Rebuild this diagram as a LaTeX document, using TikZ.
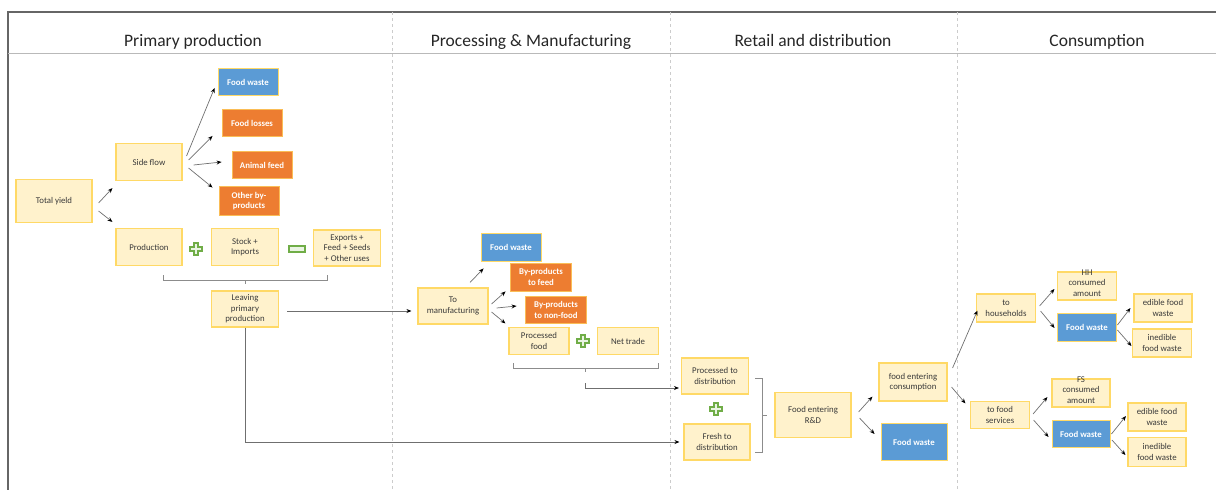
\documentclass[tikz,border=0pt]{standalone}
\usepackage{fontspec}
\setmainfont{Carlito}
\usetikzlibrary{arrows.meta,calc}
\definecolor{boxfill}{HTML}{FFF2CC}
\definecolor{boxline}{HTML}{FFD966}
\definecolor{bluefill}{HTML}{5B9BD5}
\definecolor{orangefill}{HTML}{ED7D31}
\definecolor{txt}{HTML}{3A3A3A}
\definecolor{conn}{HTML}{6F6F6F}
\definecolor{grn}{HTML}{70AD47}
\definecolor{grnfill}{HTML}{EAF4E3}
\newcommand{\boxfont}{\fontsize{8.8}{10.5}\selectfont}
\newcommand{\headfont}{\fontsize{17.5}{20}\selectfont}
\newcommand{\ovf}[1]{\smash{\begin{tabular}{@{}c@{}}#1\end{tabular}}}
\tikzset{
  lbox/.style={draw=boxline, line width=1.1pt, fill=boxfill, text=txt, font=\boxfont, align=center, inner sep=1pt},
  bbox/.style={draw=boxline, line width=0.9pt, fill=bluefill, text=white, font=\boxfont\bfseries, align=center, inner sep=1pt},
  obox/.style={draw=boxline!70!orangefill, line width=0.9pt, fill=orangefill, text=white, font=\boxfont\bfseries, align=center, inner sep=1pt},
  arr/.style={draw=conn, line width=0.7pt, -{Stealth[length=5pt,width=4pt,black]}},
  brk/.style={draw=gray!90, line width=0.9pt},
  sz/.style 2 args={minimum width=#1pt, minimum height=#2pt},
  head/.style={font=\headfont, text=black!85, anchor=base},
  greenplus/.pic={\draw[grn, fill=grnfill, line width=1.1pt] (-2,-6)--(2,-6)--(2,-2)--(6,-2)--(6,2)--(2,2)--(2,6)--(-2,6)--(-2,2)--(-6,2)--(-6,-2)--(-2,-2)--cycle;},
  greenminus/.pic={\draw[grn, fill=grnfill, line width=1.1pt] (-8,-3) rectangle (8,3);}
}
\begin{document}
\begin{tikzpicture}[x=1pt,y=-1pt]
\useasboundingbox (0,0) rectangle (1216,490);
% frame
\draw[gray!80!black, line width=1.5pt] (8,490) -- (8,12) -- (1216,12);
\draw[gray!55, line width=0.9pt] (8,53) -- (1216,53);
\foreach \xx in {392,670,957} \draw[gray!40, dashed, line width=0.6pt] (\xx,12) -- (\xx,490);
% headers
\node[head] (h1) at (193,46) {Primary production};
\node[head] (h2) at (531,46) {Processing \& Manufacturing};
\node[head] (h3) at (813,46) {Retail and distribution};
\node[head] (h4) at (1097,46) {Consumption};
% primary production
\node[lbox, sz={76}{43}] (ty) at (54,201) {Total yield};
\node[lbox, sz={66}{37}] (sf) at (149,162) {Side flow};
\node[lbox, sz={66}{37}] (pr) at (149,247) {Production};
\node[lbox, sz={67}{37}] (si) at (245,247) {Stock +\\Imports};
\node[lbox, sz={67}{36}] (ex) at (347,248) {Exports +\\Feed + Seeds\\+ Other uses};
\node[lbox, sz={67}{36}] (lp) at (245,309) {Leaving\\primary\\production};
\node[bbox, sz={60}{27}] (fw1) at (248,82) {Food waste};
\node[obox, sz={60}{27}] (fl) at (252,123) {Food losses};
\node[obox, sz={60}{27}] (af) at (262,165) {Animal feed};
\node[obox, sz={60}{29}] (ob) at (249,201) {Other by-\\products};
\pic at (196,249) {greenplus};
\pic at (297,249) {greenminus};
\draw[brk] (163,275) -- (163,280) -- (327,280) -- (327,275) (245,280) -- (245,284);
% processing
\node[lbox, sz={70}{36}] (tm) at (453,306) {To\\manufacturing};
\node[bbox, sz={60}{28}] (fw2) at (511,247) {Food waste};
\node[obox, sz={61}{28}] (bf) at (541,277) {By-products\\to feed};
\node[obox, sz={61}{27}] (bn) at (556,310) {By-products\\to non-food};
\node[lbox, sz={60}{27}] (pf) at (539,341) {Processed\\food};
\node[lbox, sz={61}{27}] (nt) at (628,341) {Net trade};
\pic at (583,341) {greenplus};
\draw[brk] (513,363) -- (513,368) -- (658,368) -- (658,363) (585,368) -- (585,372);
\coordinate (bt2) at (585,383);
% retail
\node[lbox, sz={67}{36}] (pd) at (715,376) {Processed to\\distribution};
\node[lbox, sz={66}{36}] (fd) at (717,442) {Fresh to\\distribution};
\pic at (716,409) {greenplus};
\draw[brk] (755,378) -- (762,378) -- (762,452) -- (755,452) (762,415) -- (767,415);
\node[lbox, sz={76}{45}] (fe) at (813,415) {Food entering\\R\&D};
\node[lbox, sz={68}{38}] (fc) at (913,382) {food entering\\consumption};
\node[bbox, sz={66}{37}] (fw3) at (914,442) {Food waste};
% consumption
\node[lbox, sz={59}{28}] (th) at (1006,308) {to\\households};
\node[lbox, sz={59}{27}] (tf) at (1000,415) {to food\\services};
\node[lbox, sz={59}{28}] (hh) at (1087,286) {\ovf{HH\\consumed\\amount}};
\node[bbox, sz={59}{28}] (fw4) at (1087,327) {Food waste};
\node[lbox, sz={58}{28}] (ef1) at (1163,308) {edible food\\waste};
\node[lbox, sz={59}{28}] (if1) at (1162,343) {inedible\\food waste};
\node[lbox, sz={58}{28}] (fs) at (1081,393) {\ovf{FS\\consumed\\amount}};
\node[bbox, sz={58}{27}] (fw5) at (1081,434) {Food waste};
\node[lbox, sz={58}{28}] (ef2) at (1157,417) {edible food\\waste};
\node[lbox, sz={58}{29}] (if2) at (1157,452) {inedible\\food waste};
% connectors
\draw[arr] ([shift={(6,2)}]ty.east) -- ([shift={(-3,7)}]sf.south west);
\draw[arr] ([shift={(6,10)}]ty.east) -- ([shift={(-3,-6)}]pr.north west);
\draw[arr] ([shift={(4,-6)}]sf.east) -- ([shift={(-3,-8)}]fw1.south west);
\draw[arr] ([shift={(6,-2)}]sf.east) -- ([shift={(-9,-1)}]fl.south west);
\draw[arr] ([shift={(11,3)}]sf.east) -- ([shift={(-10,-3)}]af.west);
\draw[arr] ([shift={(6,6)}]sf.east) -- ([shift={(-6,1.5)}]ob.north west);
\draw[arr] ([shift={(8,2)}]lp.east) -- ([shift={(-6,5)}]tm.west);
\draw[arr] (lp.south) |- ([xshift=-4]fd.west);
\draw[arr] ([shift={(17,-5)}]tm.north) -- ([shift={(3,7)}]fw2.south west);
\draw[arr] ([shift={(3,-2)}]tm.east) -- ([shift={(-4.5,0)}]bf.south west);
\draw[arr] ([shift={(8,2)}]tm.east) -- ([shift={(-8.5,-4)}]bn.west);
\draw[arr] ([shift={(3,6)}]tm.east) -- ([shift={(-3,-3.5)}]pf.north west);
\draw[arr] (bt2) |- ([shift={(-2,12)}]pd.west);
\draw[arr] ([shift={(7,-3)}]fe.east) -- ([shift={(-6,-5)}]fc.south west);
\draw[arr] ([shift={(8,3)}]fe.east) -- ([shift={(-6,-8)}]fw3.west);
\draw[arr] ([shift={(5,-14)}]fc.east) -- ([shift={(1.5,-12)}]th.south west);
\draw[arr] ([shift={(4,5)}]fc.east) -- ([shift={(-4.5,2.5)}]tf.north west);
\draw[arr] ([shift={(3.5,-2)}]th.east) -- ([shift={(-2.5,3)}]hh.west);
\draw[arr] ([shift={(4.5,3)}]th.east) -- ([shift={(-2.5,1)}]fw4.west);
\draw[arr] ([shift={(0.5,-2)}]fw4.east) -- ([shift={(-3,0)}]ef1.west);
\draw[arr] ([shift={(0.5,3)}]fw4.east) -- ([shift={(-0.5,3)}]if1.west);
\draw[arr] ([shift={(3,-1)}]tf.east) -- ([shift={(-4,4)}]fs.west);
\draw[arr] ([shift={(3.5,5)}]tf.east) -- ([shift={(-3,3)}]fw5.west);
\draw[arr] ([shift={(1,0)}]fw5.east) -- ([shift={(-1.5,-1)}]ef2.west);
\draw[arr] ([shift={(1.5,6)}]fw5.east) -- ([shift={(-2,3)}]if2.west);
\end{tikzpicture}
\end{document}
